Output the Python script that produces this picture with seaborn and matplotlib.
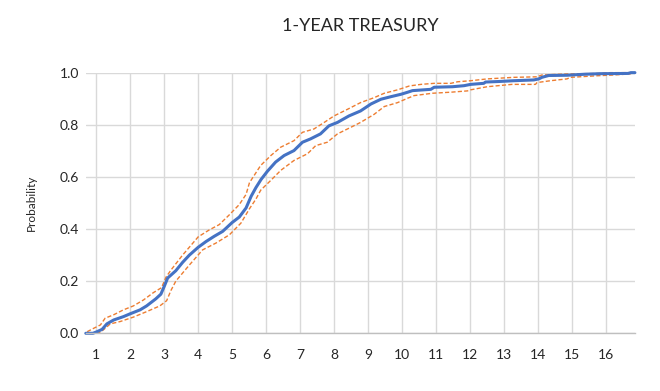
import numpy as np
import pandas as pd
import matplotlib
matplotlib.use("Agg")
import matplotlib.pyplot as plt
import seaborn as sns

cdf_x = [0.69, 0.9, 1.0, 1.17, 1.31, 1.51, 1.8, 2.0, 2.29, 2.48, 2.75, 2.9, 3.0, 3.1,
         3.34, 3.54, 3.74, 4.0, 4.23, 4.47, 4.72, 5.0, 5.21, 5.41, 5.56, 5.7, 5.85,
         6.04, 6.28, 6.53, 6.82, 7.07, 7.31, 7.6, 7.85, 8.1, 8.44, 8.78, 9.09, 9.38,
         9.68, 9.97, 10.17, 10.31, 10.85, 10.95, 11.49, 11.83, 12.02, 12.41, 12.46,
         12.85, 13.29, 13.88, 14.03, 14.12, 14.32, 14.86, 15.39, 15.83, 16.66, 16.74, 16.86]
cdf_y = [0.0, 0.0, 0.005, 0.015, 0.036, 0.051, 0.064, 0.075, 0.09, 0.105, 0.132, 0.15,
         0.18, 0.212, 0.24, 0.272, 0.30, 0.33, 0.352, 0.372, 0.391, 0.425, 0.446, 0.481,
         0.526, 0.559, 0.59, 0.622, 0.657, 0.682, 0.701, 0.733, 0.746, 0.765, 0.796,
         0.809, 0.834, 0.853, 0.88, 0.898, 0.908, 0.917, 0.925, 0.931, 0.936, 0.944,
         0.946, 0.95, 0.955, 0.959, 0.964, 0.966, 0.969, 0.972, 0.976, 0.982, 0.989,
         0.99, 0.994, 0.996, 0.997, 1.0, 1.0]

# upper confidence band
upper_x = [0.73, 0.92, 1.12, 1.26, 1.51, 1.8, 2.09, 2.39, 2.68, 2.92, 3.05, 3.2, 3.54,
           4.0, 4.33, 4.62, 4.92, 5.21, 5.41, 5.51, 5.84, 6.14, 6.43, 6.82, 7.07, 7.41,
           7.71, 8.0, 8.39, 8.78, 9.18, 9.48, 9.87, 10.22, 10.56, 10.95, 11.44, 11.64,
           12.02, 12.51, 13.29, 13.98, 14.12, 14.86, 15.83, 16.13, 16.86]
upper_y = [0.006, 0.019, 0.032, 0.058, 0.071, 0.09, 0.105, 0.128, 0.156, 0.175, 0.215,
           0.243, 0.30, 0.37, 0.397, 0.417, 0.455, 0.494, 0.533, 0.578, 0.644, 0.682,
           0.714, 0.739, 0.771, 0.784, 0.809, 0.834, 0.859, 0.885, 0.904, 0.921, 0.934,
           0.949, 0.955, 0.959, 0.959, 0.965, 0.969, 0.976, 0.982, 0.984, 0.991, 0.995,
           0.997, 1.0, 1.0]

# lower confidence band
lower_x = [1.0, 1.12, 1.26, 1.41, 1.7, 2.09, 2.48, 2.87, 3.07, 3.2, 3.34, 3.74, 4.13,
           4.52, 4.92, 5.26, 5.51, 5.7, 5.84, 6.14, 6.43, 6.82, 7.22, 7.46, 7.8, 8.1,
           8.49, 8.78, 9.18, 9.48, 9.87, 10.17, 10.36, 10.9, 11.44, 11.93, 12.02, 12.51,
           13.24, 13.93, 13.98, 14.37, 14.86, 14.96, 15.74, 16.23, 16.71, 16.8, 16.86]
lower_y = [0.0, 0.004, 0.019, 0.036, 0.045, 0.062, 0.083, 0.105, 0.125, 0.165, 0.20,
           0.262, 0.32, 0.346, 0.378, 0.423, 0.478, 0.515, 0.549, 0.587, 0.625, 0.663,
           0.689, 0.72, 0.733, 0.765, 0.79, 0.809, 0.84, 0.87, 0.885, 0.902, 0.912,
           0.921, 0.925, 0.93, 0.934, 0.946, 0.955, 0.955, 0.962, 0.969, 0.976, 0.982,
           0.988, 0.991, 0.995, 1.0, 1.0]

x_ticks = list(range(1, 17))
y_ticks = [0.0, 0.2, 0.4, 0.6, 0.8, 1.0]

sns.set_style("whitegrid")
plt.rcParams['font.family'] = ['Lato', 'DejaVu Sans']
text_color = '#262626'

fig = plt.figure(figsize=(6.6, 3.91), dpi=100)
ax = fig.add_axes([0.130, 0.1476, 0.832, 0.6666])

orange = '#ED7D31'
blue = '#4472C4'
sns.lineplot(x=upper_x, y=upper_y, ax=ax, color=orange, linewidth=1.0,
             estimator=None, sort=False, clip_on=False, dashes=False,
             linestyle=(0, (3, 1.6)))
sns.lineplot(x=lower_x, y=lower_y, ax=ax, color=orange, linewidth=1.0,
             estimator=None, sort=False, clip_on=False, dashes=False,
             linestyle=(0, (3, 1.6)))
sns.lineplot(x=cdf_x, y=cdf_y, ax=ax, color=blue, linewidth=2.2,
             estimator=None, sort=False, clip_on=False)

ax.set_xlim(0.69, 16.86)
ax.set_ylim(0, 1.0)
ax.set_xticks(x_ticks)
ax.set_yticks(y_ticks)
ax.set_yticklabels([f"{v:.1f}" for v in y_ticks])
ax.grid(True, color='#D9D9D9', linewidth=1.0)
ax.set_axisbelow(True)
for side in ['left', 'right', 'top']:
    ax.spines[side].set_visible(False)
ax.spines['bottom'].set_color('#BFBFBF')
ax.spines['bottom'].set_linewidth(1.0)
ax.tick_params(axis='x', length=0, pad=11, labelsize=10, labelcolor=text_color)
ax.tick_params(axis='y', length=0, pad=5, labelsize=10, labelcolor=text_color)

ax.set_xlabel('')
ax.set_ylabel('Probability', fontsize=8.5, color=text_color, labelpad=16)
ax.set_title('1-YEAR TREASURY', fontsize=13, color=text_color, pad=30)

fig.savefig('out.png', dpi=100)
